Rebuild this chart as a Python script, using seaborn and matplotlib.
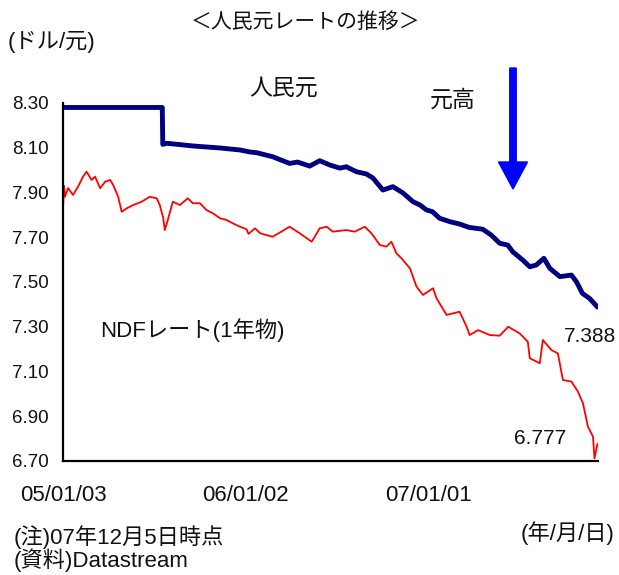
import matplotlib
matplotlib.use("Agg")
import matplotlib.pyplot as plt
import seaborn as sns
import pandas as pd

# ---- data ----
cny_dates = ["2005-01-03", "2005-07-20", "2005-07-21", "2005-07-29", "2005-09-19", "2005-11-12",
             "2005-12-22", "2006-01-11", "2006-01-24", "2006-02-25", "2006-03-31", "2006-04-16",
             "2006-05-10", "2006-05-30", "2006-06-19", "2006-07-09", "2006-07-22", "2006-08-11",
             "2006-08-31", "2006-09-13", "2006-10-03", "2006-10-23", "2006-11-12", "2006-12-02",
             "2006-12-16", "2006-12-29", "2007-01-10", "2007-01-24", "2007-02-13", "2007-03-05",
             "2007-03-24", "2007-04-20", "2007-05-07", "2007-05-24", "2007-06-09", "2007-06-19",
             "2007-07-09", "2007-07-23", "2007-08-05", "2007-08-20", "2007-09-01", "2007-09-21",
             "2007-10-14", "2007-10-24", "2007-11-05", "2007-11-19", "2007-12-05"]
cny_values = [8.28, 8.28, 8.115, 8.12, 8.108, 8.099,
              8.090, 8.081, 8.078, 8.060, 8.030, 8.036,
              8.018, 8.042, 8.023, 8.009, 8.015, 7.993,
              7.983, 7.965, 7.911, 7.926, 7.898, 7.859,
              7.844, 7.822, 7.814, 7.785, 7.770, 7.759,
              7.744, 7.736, 7.710, 7.673, 7.665, 7.635,
              7.598, 7.568, 7.576, 7.606, 7.561, 7.524,
              7.531, 7.501, 7.449, 7.427, 7.388]

ndf_dates = ["2005-01-03", "2005-01-05", "2005-01-07", "2005-01-13", "2005-01-23", "2005-02-02",
             "2005-02-12", "2005-02-19", "2005-03-01", "2005-03-08", "2005-03-18", "2005-03-28",
             "2005-04-07", "2005-04-13", "2005-04-23", "2005-04-30", "2005-05-10", "2005-05-23",
             "2005-06-09", "2005-06-25", "2005-07-09", "2005-07-15", "2005-07-22", "2005-07-25",
             "2005-07-31", "2005-08-10", "2005-08-24", "2005-09-09", "2005-09-19", "2005-10-03",
             "2005-10-16", "2005-10-29", "2005-11-12", "2005-11-25", "2005-12-08", "2005-12-22",
             "2006-01-04", "2006-01-08", "2006-01-21", "2006-01-31", "2006-02-25", "2006-03-31",
             "2006-04-20", "2006-05-14", "2006-05-30", "2006-06-13", "2006-06-25", "2006-07-22",
             "2006-08-08", "2006-08-28", "2006-09-10", "2006-09-27", "2006-10-10", "2006-10-20",
             "2006-10-30", "2006-11-09", "2006-11-26", "2006-12-09", "2006-12-22", "2007-01-11",
             "2007-01-18", "2007-02-07", "2007-03-05", "2007-03-19", "2007-03-25", "2007-04-11",
             "2007-05-04", "2007-05-24", "2007-06-10", "2007-07-03", "2007-07-19", "2007-07-23",
             "2007-08-12", "2007-08-18", "2007-09-04", "2007-09-17", "2007-09-27", "2007-10-14",
             "2007-10-27", "2007-11-06", "2007-11-16", "2007-11-26", "2007-11-29", "2007-12-05"]
ndf_values = [7.83, 7.93, 7.881, 7.92, 7.889, 7.926,
              7.971, 7.993, 7.956, 7.971, 7.919, 7.948,
              7.956, 7.934, 7.881, 7.814, 7.829, 7.844,
              7.859, 7.881, 7.874, 7.844, 7.785, 7.732,
              7.777, 7.859, 7.844, 7.874, 7.852, 7.852,
              7.822, 7.807, 7.785, 7.777, 7.762, 7.747,
              7.736, 7.715, 7.740, 7.718, 7.702, 7.747,
              7.718, 7.680, 7.740, 7.747, 7.725, 7.732,
              7.725, 7.747, 7.718, 7.665, 7.658, 7.680,
              7.628, 7.606, 7.561, 7.479, 7.442, 7.472,
              7.427, 7.353, 7.367, 7.300, 7.263, 7.285,
              7.263, 7.260, 7.300, 7.270, 7.233, 7.159,
              7.137, 7.241, 7.196, 7.181, 7.062, 7.055,
              7.010, 6.958, 6.853, 6.809, 6.712, 6.777]

y_ticks = [6.70, 6.90, 7.10, 7.30, 7.50, 7.70, 7.90, 8.10, 8.30]
y_labels = ["6.70", "6.90", "7.10", "7.30", "7.50", "7.70", "7.90", "8.10", "8.30"]
x_ticks = ["2005-01-03", "2006-01-02", "2007-01-01"]
x_labels = ["05/01/03", "06/01/02", "07/01/01"]

cny = pd.DataFrame({"date": pd.to_datetime(cny_dates), "rate": cny_values})
ndf = pd.DataFrame({"date": pd.to_datetime(ndf_dates), "rate": ndf_values})

# ---- style ----
sns.set_style("white")
plt.rcParams["font.family"] = ["Liberation Sans", "Noto Sans CJK JP", "DejaVu Sans"]

fig = plt.figure(figsize=(6.19, 5.75), dpi=100)
ax = fig.add_axes([63 / 619, 1 - 461 / 575, (598 - 63) / 619, (461 - 103) / 575])

sns.lineplot(data=ndf, x="date", y="rate", color="#FF0000", linewidth=1.3, ax=ax)
sns.lineplot(data=cny, x="date", y="rate", color="#000080", linewidth=3.5, ax=ax)

ax.set_xlim(pd.Timestamp("2005-01-03"), pd.Timestamp("2007-12-06"))
ax.set_ylim(6.70, 8.30)
ax.set_yticks(y_ticks)
ax.set_yticklabels(y_labels)
ax.set_xticks(pd.to_datetime(x_ticks))
ax.set_xticklabels(x_labels)
ax.set_xlabel("")
ax.set_ylabel("")
ax.grid(False)

for s in ["top", "right"]:
    ax.spines[s].set_visible(False)
for s in ["left", "bottom"]:
    ax.spines[s].set_color("black")
    ax.spines[s].set_linewidth(1.6)
    ax.spines[s].set_clip_on(False)

ax.tick_params(axis="y", direction="in", length=7, width=1.4, pad=10.5, labelsize=13.5, colors="black")
ax.tick_params(axis="x", direction="in", length=6, width=1.4, pad=17, labelsize=16, colors="black")
for lab in ax.get_xticklabels() + ax.get_yticklabels():
    lab.set_color("#111111")

# ---- texts ----
def fx(px):
    return px / 619

def fy(py):
    return 1 - py / 575

fig.text(fx(306), fy(22), "＜人民元レートの推移＞", ha="center", va="center", fontsize=15, color="#111111")
fig.text(fx(8), fy(42), "(ドル/元)", ha="left", va="center", fontsize=16, color="#111111")
fig.text(fx(284), fy(88), "人民元", ha="center", va="center", fontsize=16.5, color="#111111")
fig.text(fx(453), fy(100), "元高", ha="center", va="center", fontsize=16.5, color="#111111")
fig.text(fx(100), fy(330), "NDFレート(1年物)", ha="left", va="center", fontsize=16, color="#111111")
fig.text(fx(616), fy(336), "7.388", ha="right", va="center", fontsize=15, color="#111111")
fig.text(fx(566), fy(439), "6.777", ha="right", va="center", fontsize=15, color="#111111")
fig.text(fx(615), fy(533), "(年/月/日)", ha="right", va="center", fontsize=16, color="#111111")
fig.text(fx(14), fy(537), "(注)07年12月5日時点", ha="left", va="center", fontsize=16, color="#111111")
fig.text(fx(14), fy(560), "(資料)Datastream", ha="left", va="center", fontsize=16, color="#111111")

# arrow (元高)
fig.patches.append(matplotlib.patches.FancyArrow(
    fx(513), fy(68), 0, fy(189) - fy(68), width=6 / 575, head_width=29 / 619,
    head_length=27 / 575, length_includes_head=True, color="#0000FF",
    transform=fig.transFigure, figure=fig))

fig.savefig("out.png", dpi=100)
